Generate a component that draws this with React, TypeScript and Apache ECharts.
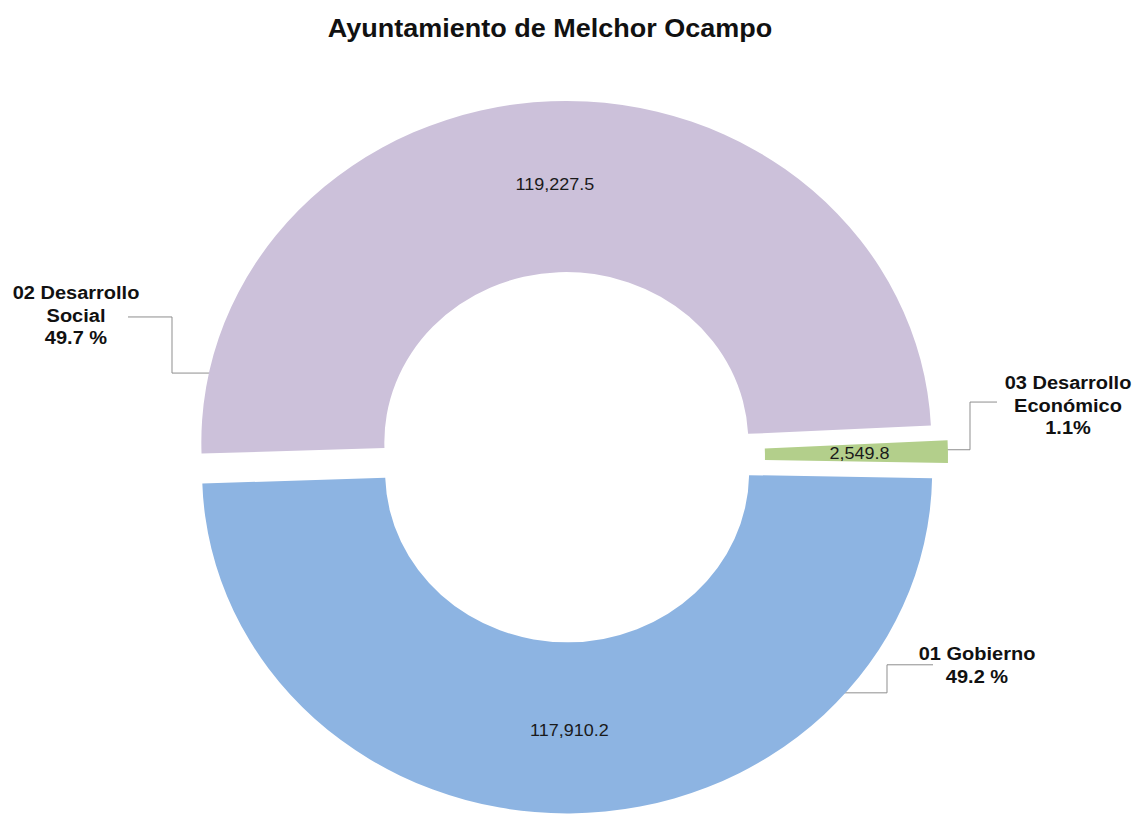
import React, { useEffect, useRef } from "react";
import * as echarts from "echarts";

const titleText = "Ayuntamiento de Melchor Ocampo";
const categories = ["01 Gobierno", "02 Desarrollo Social", "03 Desarrollo Económico"];
const labelNames = ["01 Gobierno", "02 Desarrollo\nSocial", "03 Desarrollo\nEconómico"];
const values = [117910.2, 119227.5, 2549.8];
const percentSuffix = [" %", " %", "%"];
const colors = ["#8DB4E2", "#CCC1DA", "#B3CF8B"];

const W = 1137;
const H = 817;
const SQUISH = 0.935;
const CH = Math.round(H / SQUISH);

// Outer label placement (chart coordinates, before vertical squish)
const outerLabelLayout = [
  { x: 977, y: 711, line: [[838, 741], [887, 741], [887, 711], [933, 711]] },
  { x: 76, y: 337, line: [[214, 399], [172, 399], [172, 339], [128, 339]] },
  { x: 1068, y: 433, line: [[946, 481], [970, 481], [970, 430], [997, 430]] },
];

const FONT = "'Liberation Sans', Arial, sans-serif";

const fmt = (v: number) =>
  v.toLocaleString("en-US", { minimumFractionDigits: 1, maximumFractionDigits: 1 });

export default function App() {
  const ref = useRef<HTMLDivElement>(null);

  useEffect(() => {
    if (!ref.current) return;
    const chart = echarts.init(ref.current, undefined, { renderer: "svg" });
    const total = values.reduce((a, b) => a + b, 0);

    const graphics: any[] = [];
    outerLabelLayout.forEach((L, i) => {
      graphics.push({
        type: "polyline",
        silent: true,
        shape: { points: L.line },
        style: { stroke: "#8a8a8a", lineWidth: 1, fill: null },
      });
      graphics.push({
        type: "text",
        silent: true,
        x: L.x,
        y: L.y,
        style: {
          text:
            labelNames[i] + "\n" + ((values[i] / total) * 100).toFixed(1) + percentSuffix[i],
          fill: "#111",
          fontFamily: FONT,
          fontSize: 20,
          fontWeight: "bold",
          lineHeight: 24,
          align: "center",
          verticalAlign: "middle",
        },
      });
    });

    chart.setOption({
      animation: false,
      backgroundColor: "#ffffff",
      title: {
        text: titleText,
        left: 545,
        textAlign: "center",
        top: 12,
        textStyle: { fontFamily: FONT, fontSize: 27, fontWeight: "bold", color: "#111" },
      },
      graphic: graphics,
      series: [
        {
          type: "pie",
          radius: [182, 365],
          center: [567, 489],
          startAngle: -1,
          clockwise: true,
          selectedMode: "multiple",
          selectedOffset: 16,
          emphasis: { disabled: true, scale: false },
          select: { itemStyle: { borderWidth: 0 } },
          label: {
            show: true,
            position: "inside",
            formatter: (p: any) => fmt(p.value),
            color: "#1a1a1a",
            fontFamily: FONT,
            fontSize: 18,
          },
          labelLine: { show: false },
          data: values.map((v, i) => ({
            name: categories[i],
            value: v,
            selected: true,
            itemStyle: { color: colors[i] },
          })),
        },
      ],
    });
    return () => chart.dispose();
  }, []);

  return (
    <div
      style={{
        position: "absolute",
        left: 0,
        top: 0,
        width: W,
        height: H,
        overflow: "hidden",
        background: "#fff",
      }}
    >
      <div
        ref={ref}
        style={{
          width: W,
          height: CH,
          transform: `scaleY(${SQUISH})`,
          transformOrigin: "0 0",
        }}
      />
    </div>
  );
}
